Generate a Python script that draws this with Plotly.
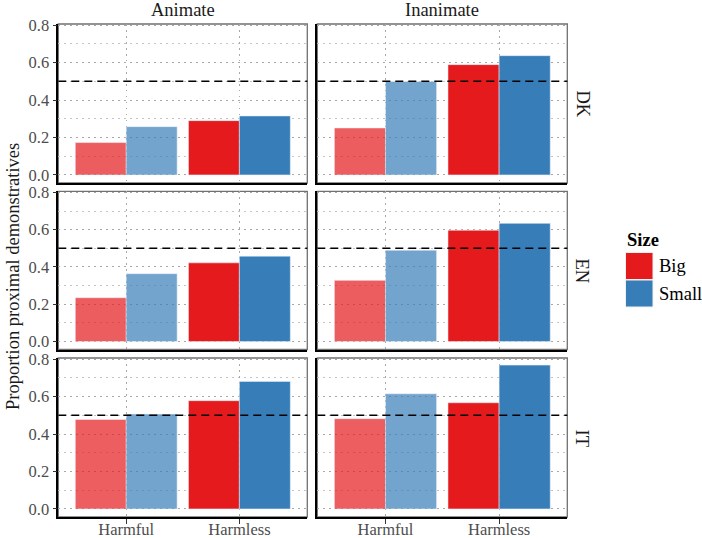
import plotly.graph_objects as go

W, H = 702, 538

harm = ["Harmful", "Harmless"]
animacy = ["Animate", "Inanimate"]
langs = ["DK", "EN", "IT"]
sizes = ["Big", "Small"]

# values[lang][animacy][size] -> [Harmful, Harmless]
dk_anim_big = [0.173, 0.290]
dk_anim_small = [0.258, 0.315]
dk_inan_big = [0.251, 0.589]
dk_inan_small = [0.499, 0.637]
en_anim_big = [0.235, 0.422]
en_anim_small = [0.364, 0.458]
en_inan_big = [0.328, 0.597]
en_inan_small = [0.490, 0.634]
it_anim_big = [0.478, 0.578]
it_anim_small = [0.507, 0.681]
it_inan_big = [0.482, 0.567]
it_inan_small = [0.615, 0.768]

data = {
    "DK": {"Animate": {"Big": dk_anim_big, "Small": dk_anim_small},
           "Inanimate": {"Big": dk_inan_big, "Small": dk_inan_small}},
    "EN": {"Animate": {"Big": en_anim_big, "Small": en_anim_small},
           "Inanimate": {"Big": en_inan_big, "Small": en_inan_small}},
    "IT": {"Animate": {"Big": it_anim_big, "Small": it_anim_small},
           "Inanimate": {"Big": it_inan_big, "Small": it_inan_small}},
}
y_ticks = [0.0, 0.2, 0.4, 0.6, 0.8]
y_tick_text = ["0.0", "0.2", "0.4", "0.6", "0.8"]
reference_line = 0.5

colors = {"Big": "#E41A1C", "Small": "#377EB8"}
harm_opacity = [0.7, 1.0]

FONT = "Liberation Serif"
GRID_DASH = "1.5px,4.5px"

# panel pixel geometry
col_px = [(58.3, 307.3), (317.3, 567.3)]
row_px = [(24, 183), (191.3, 349.5), (358, 517)]

fig = go.Figure()
layout_axes = {}
shapes = []
annotations = []

idx = 0
for r, lang in enumerate(langs):
    for c, an in enumerate(animacy):
        idx += 1
        xa = "x" if idx == 1 else f"x{idx}"
        ya = "y" if idx == 1 else f"y{idx}"
        xkey = "xaxis" if idx == 1 else f"xaxis{idx}"
        ykey = "yaxis" if idx == 1 else f"yaxis{idx}"
        for s in sizes:
            fig.add_trace(go.Bar(
                x=harm, y=data[lang][an][s], name=s,
                marker=dict(color=colors[s], opacity=harm_opacity,
                            line=dict(width=0.6, color="rgba(235,240,250,0.9)")),
                xaxis=xa, yaxis=ya, showlegend=False,
                offsetgroup=s,
            ))
        x0, x1 = col_px[c]
        y0, y1 = row_px[r]
        layout_axes[xkey] = dict(
            domain=[x0 / W, x1 / W], anchor=ya, type="category",
            range=[-0.6, 1.6], showgrid=True, gridcolor="#a8a8a8",
            griddash=GRID_DASH, gridwidth=1.2, zeroline=False,
            showline=True, linecolor="black", linewidth=1.6,
            ticks="outside" if r == 2 else "", ticklen=5, tickcolor="#333",
            showticklabels=(r == 2), automargin=False,
            ticklabelstandoff=-9,
            tickfont=dict(family=FONT, size=16.5, color="#4d4d4d"),
            fixedrange=True,
        )
        layout_axes[ykey] = dict(
            domain=[1 - y1 / H, 1 - y0 / H], anchor=xa,
            range=[-0.043, 0.806], tickvals=y_ticks, ticktext=y_tick_text,
            showgrid=True, gridcolor="#a8a8a8", griddash=GRID_DASH, gridwidth=1.2,
            minor=dict(showgrid=True, gridcolor="#c4c4c4", griddash=GRID_DASH,
                       gridwidth=1, tick0=0.1, dtick=0.2),
            zeroline=False, showline=True, linecolor="black", linewidth=1.6,
            ticks="outside" if c == 0 else "", ticklen=4, tickcolor="#333",
            showticklabels=(c == 0), automargin=False,
            tickfont=dict(family=FONT, size=16.5, color="#4d4d4d"),
            fixedrange=True,
        )
        # panel border (top/right visible; left/bottom covered by black axis lines)
        shapes.append(dict(type="rect", xref=f"{xa} domain", yref=f"{ya} domain",
                           x0=0, x1=1, y0=0, y1=1,
                           line=dict(color="#707070", width=1.3), layer="below"))
        # dashed 0.5 line
        shapes.append(dict(type="line", xref=f"{xa} domain", yref=ya,
                           x0=0, x1=1, y0=reference_line, y1=reference_line,
                           line=dict(color="black", width=1.6, dash="8px,5px"),
                           layer="above"))
        if r == 0:
            annotations.append(dict(text=an, xref="paper", yref="paper",
                                    x=(x0 + x1) / 2 / W, y=1 - 10 / H,
                                    xanchor="center", yanchor="middle",
                                    showarrow=False,
                                    font=dict(family=FONT, size=18.5, color="#1a1a1a")))
        if c == 1:
            annotations.append(dict(text=lang, xref="paper", yref="paper",
                                    x=582 / W, y=1 - (y0 + y1) / 2 / H,
                                    xanchor="center", yanchor="middle",
                                    showarrow=False, textangle=90,
                                    font=dict(family=FONT, size=18.5, color="#1a1a1a")))

# y-axis title
annotations.append(dict(text="Proportion proximal demonstratives",
                        xref="paper", yref="paper", x=13 / W, y=1 - 277 / H,
                        xanchor="center", yanchor="middle",
                        showarrow=False, textangle=-90,
                        font=dict(family=FONT, size=18.5, color="#1a1a1a")))

# legend (drawn manually)
annotations.append(dict(text="<b>Size</b>", xref="paper", yref="paper",
                        x=625 / W, y=1 - 240 / H, xanchor="left", yanchor="middle",
                        showarrow=False,
                        font=dict(family=FONT, size=18.5, color="black")))
leg_top = 252.5
for i, s in enumerate(sizes):
    ty = leg_top + i * 27.5
    shapes.append(dict(type="rect", xref="paper", yref="paper",
                       x0=625.5 / W, x1=653 / W,
                       y0=1 - (ty + 27) / H, y1=1 - ty / H,
                       fillcolor=colors[s], line=dict(color="#f0f0f0", width=1)))
    annotations.append(dict(text=s, xref="paper", yref="paper",
                            x=657 / W, y=1 - (ty + 13.5) / H,
                            xanchor="left", yanchor="middle",
                            showarrow=False,
                            font=dict(family=FONT, size=18.5, color="black")))

fig.update_layout(
    template="none",
    width=W, height=H, margin=dict(l=0, r=0, t=0, b=0, pad=0, autoexpand=False),
    paper_bgcolor="white", plot_bgcolor="white",
    font=dict(family=FONT),
    barmode="group", bargap=0.1, bargroupgap=0,
    showlegend=False, shapes=shapes, annotations=annotations,
    **layout_axes,
)

fig.write_html("out.html", config={"displayModeBar": False},
               post_script="document.body.style.margin='0';")
